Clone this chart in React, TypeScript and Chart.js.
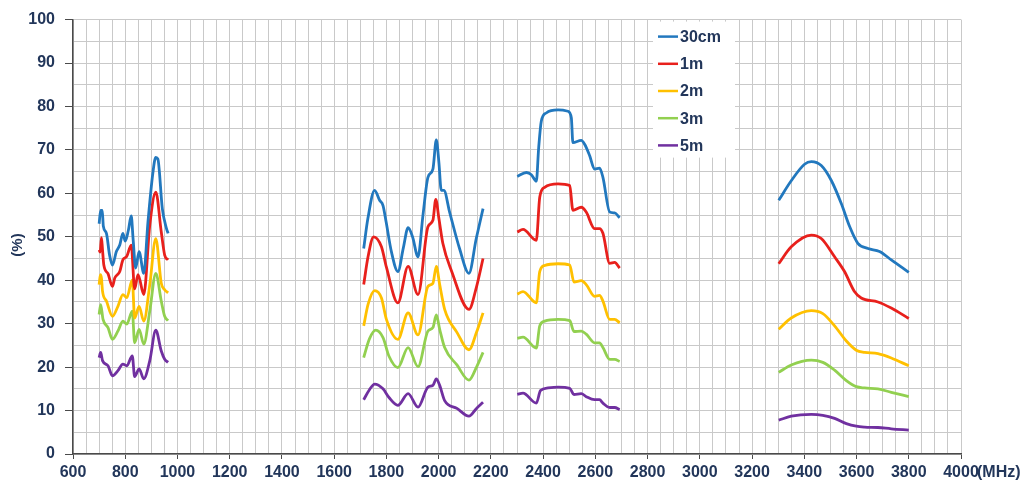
import React, { useEffect, useRef } from "react";
import { Chart, registerables } from "chart.js";

Chart.register(...registerables);

// ---- data (null = gap between frequency bands) ----
const seriesLabels = ["30cm", "1m", "2m", "3m", "5m"];
const seriesColors = ["#2278BE", "#E8201C", "#FFC000", "#92D050", "#7030A0"];

const freq30cm = [700, 706, 712, 716, 728, 740, 751, 766, 779, 791, 800, 812, 823, 830, 840, 853, 871, 887, 906, 917, 925, 942, 958, 964,
  1300,
  1713, 1729, 1755, 1774, 1787, 1799, 1819, 1844, 1865, 1883, 1900, 1921, 1940, 1959, 1978, 1991, 2001, 2010, 2020, 2042, 2080, 2116, 2144, 2170,
  2240,
  2301, 2336, 2355, 2374, 2383, 2393, 2412, 2457, 2495, 2508, 2514, 2546, 2559, 2578, 2597, 2616, 2629, 2655, 2674, 2693,
  3000,
  3302, 3350, 3401, 3427, 3465, 3504, 3542, 3574, 3605, 3644, 3688, 3733, 3800];
const pct30cm = [53.0, 56.1, 56.1, 52.5, 50.8, 45.8, 43.5, 46.6, 48.1, 50.8, 49.0, 51.5, 54.8, 49.6, 42.8, 46.6, 41.6, 53.4, 64.8, 68.3, 67.9, 56.5, 51.9, 50.8,
  null,
  47.3, 54.2, 60.7, 58.4, 57.2, 53.4, 46.6, 42.0, 47.5, 52.1, 50.0, 45.4, 55.0, 63.7, 65.6, 72.3, 67.1, 60.7, 60.7, 55.7, 47.3, 41.6, 49.6, 56.5,
  null,
  63.9, 64.8, 64.3, 62.8, 70.5, 76.6, 78.5, 79.2, 78.9, 77.4, 71.7, 72.2, 71.3, 68.7, 65.6, 65.8, 63.7, 55.7, 55.5, 54.4,
  null,
  58.4, 62.9, 66.7, 67.3, 66.4, 62.9, 57.6, 52.3, 48.5, 47.3, 46.6, 44.7, 41.8];

const freq1m = [700, 704, 709, 713, 718, 734, 751, 760, 779, 791, 806, 823, 836, 849, 871, 894, 917, 938, 951, 964,
  1300,
  1713, 1730, 1751, 1781, 1800, 1844, 1883, 1921, 1959, 1978, 1989, 2001, 2016, 2050, 2116, 2145, 2170,
  2240,
  2301, 2323, 2374, 2387, 2406, 2457, 2502, 2514, 2546, 2565, 2597, 2616, 2629, 2655, 2674, 2693,
  3000,
  3302, 3350, 3427, 3465, 3516, 3554, 3592, 3618, 3682, 3733, 3800];
const pct1m = [47.0, 46.5, 49.8, 47.0, 43.5, 41.5, 38.6, 40.5, 42.0, 44.7, 45.5, 48.1, 38.0, 41.3, 36.7, 52.7, 60.3, 51.1, 45.8, 44.7,
  null,
  39.0, 45.5, 50.0, 47.7, 43.0, 34.8, 43.2, 36.7, 52.3, 53.8, 58.6, 54.2, 48.5, 42.0, 33.3, 38.5, 45.0,
  null,
  51.1, 51.7, 49.2, 59.1, 61.4, 62.2, 61.8, 56.1, 56.8, 55.7, 51.9, 51.9, 50.8, 43.9, 44.1, 42.8,
  null,
  43.8, 47.7, 50.4, 49.6, 45.4, 42.0, 37.4, 35.9, 35.0, 33.6, 31.2];

const freq2m = [700, 705, 709, 713, 728, 751, 772, 791, 806, 827, 836, 853, 871, 894, 917, 938, 951, 964,
  1300,
  1713, 1730, 1755, 1781, 1800, 1844, 1883, 1921, 1959, 1978, 1991, 2004, 2023, 2070, 2116, 2145, 2170,
  2240,
  2301, 2323, 2374, 2387, 2406, 2457, 2502, 2518, 2546, 2565, 2597, 2616, 2629, 2655, 2674, 2693,
  3000,
  3302, 3350, 3427, 3471, 3516, 3561, 3599, 3631, 3682, 3733, 3800];
const pct2m = [39.0, 41.3, 40.5, 37.5, 35.2, 31.7, 34.0, 36.7, 36.0, 40.1, 31.3, 34.0, 30.6, 39.0, 49.6, 39.3, 37.8, 37.1,
  null,
  29.5, 34.5, 37.6, 35.9, 31.0, 26.4, 32.5, 27.4, 38.6, 39.3, 43.2, 39.0, 33.3, 28.0, 24.0, 28.0, 32.5,
  null,
  36.8, 37.4, 34.8, 42.0, 43.4, 43.8, 43.5, 39.6, 39.9, 39.0, 36.3, 36.5, 35.2, 31.0, 31.0, 30.2,
  null,
  28.7, 31.3, 33.0, 32.3, 29.5, 26.0, 23.9, 23.4, 23.1, 22.1, 20.3];

const freq3m = [700, 706, 715, 734, 751, 772, 791, 806, 827, 836, 853, 871, 894, 917, 938, 951, 964,
  1300,
  1713, 1735, 1759, 1787, 1810, 1844, 1883, 1921, 1959, 1978, 1991, 2004, 2023, 2070, 2116, 2145, 2170,
  2240,
  2301, 2323, 2374, 2387, 2406, 2457, 2502, 2518, 2546, 2565, 2597, 2616, 2629, 2655, 2674, 2693,
  3000,
  3302, 3350, 3427, 3471, 3516, 3561, 3599, 3631, 3682, 3733, 3800];
const pct3m = [32.1, 34.4, 31.0, 29.1, 26.4, 28.3, 30.6, 29.9, 32.9, 25.6, 28.7, 25.3, 32.9, 41.6, 35.2, 31.7, 30.7,
  null,
  22.2, 26.5, 28.5, 26.8, 22.5, 19.9, 24.5, 20.1, 28.3, 29.1, 32.0, 28.7, 24.5, 20.5, 17.0, 20.0, 23.4,
  null,
  26.6, 26.9, 24.4, 29.5, 30.6, 31.0, 30.7, 28.2, 28.3, 27.6, 25.6, 25.6, 24.5, 21.8, 21.8, 21.3,
  null,
  18.8, 20.5, 21.6, 21.1, 19.3, 16.9, 15.5, 15.2, 15.0, 14.2, 13.2];

const freq5m = [700, 706, 713, 734, 751, 772, 791, 806, 827, 836, 853, 871, 894, 917, 938, 951, 964,
  1300,
  1713, 1735, 1755, 1787, 1810, 1844, 1883, 1921, 1959, 1978, 1991, 2004, 2023, 2070, 2116, 2145, 2170,
  2240,
  2301, 2323, 2374, 2390, 2419, 2457, 2502, 2518, 2546, 2565, 2597, 2616, 2629, 2655, 2674, 2693,
  3000,
  3302, 3350, 3427, 3471, 3516, 3561, 3599, 3631, 3682, 3733, 3800];
const pct5m = [22.2, 23.4, 21.5, 20.3, 18.0, 19.2, 20.7, 20.3, 22.6, 17.8, 19.6, 17.3, 21.5, 28.5, 23.7, 21.8, 21.1,
  null,
  12.5, 14.8, 16.1, 15.0, 13.0, 11.2, 13.9, 10.8, 15.4, 15.8, 17.3, 15.8, 12.3, 10.5, 8.7, 10.5, 11.9,
  null,
  13.7, 14.0, 11.7, 14.6, 15.2, 15.4, 15.1, 13.7, 13.9, 13.2, 12.5, 12.5, 11.7, 10.7, 10.7, 10.2,
  null,
  7.8, 8.7, 9.1, 8.9, 8.2, 7.0, 6.4, 6.2, 6.1, 5.8, 5.5];

const seriesFreqs = [freq30cm, freq1m, freq2m, freq3m, freq5m];
const seriesPcts = [pct30cm, pct1m, pct2m, pct3m, pct5m];

const xMin = 600;
const xMax = 4000;
const xLabelStep = 200;
const yMin = 0;
const yMax = 100;
const yLabelStep = 10;
const xUnit = "(MHz)";
const yUnit = "(%)";

const FONT = "Arial, 'Liberation Sans', sans-serif";
const TEXT = "#22365A";
const GRID = "#C9C9C9";
const AXIS = "#4A4A4A";

const overlayPlugin = {
  id: "overlay",
  afterDatasetsDraw(chart: any) {
    const ctx = chart.ctx as CanvasRenderingContext2D;
    const ca = chart.chartArea;
    ctx.save();
    // legend box
    const bx = ca.left + 580;
    const by = ca.top + 2;
    ctx.fillStyle = "#FFFFFF";
    ctx.fillRect(bx, by, 82, 136);
    ctx.font = `bold 16px ${FONT}`;
    ctx.textBaseline = "middle";
    ctx.textAlign = "left";
    seriesLabels.forEach((lab, i) => {
      const y = by + 15 + i * 27.2;
      ctx.strokeStyle = seriesColors[i];
      ctx.lineWidth = 2.5;
      ctx.beginPath();
      ctx.moveTo(bx + 5, y);
      ctx.lineTo(bx + 25, y);
      ctx.stroke();
      ctx.fillStyle = TEXT;
      ctx.fillText(lab, bx + 27, y + 1);
    });
    // unit labels
    ctx.fillStyle = TEXT;
    ctx.font = `bold 16px ${FONT}`;
    ctx.textAlign = "left";
    ctx.fillText(xUnit, ca.right + 16, ca.bottom + 19);
    ctx.translate(18, 245);
    ctx.rotate(-Math.PI / 2);
    ctx.textAlign = "center";
    ctx.font = `bold 15px ${FONT}`;
    ctx.fillText(yUnit, 0, 0);
    ctx.restore();
  },
};

export default function App() {
  const ref = useRef<HTMLCanvasElement>(null);
  useEffect(() => {
    if (!ref.current) return;
    const datasets = seriesLabels.map((label, i) => ({
      label,
      data: seriesFreqs[i].map((f, k) => ({ x: f, y: seriesPcts[i][k] })),
      borderColor: seriesColors[i],
      backgroundColor: seriesColors[i],
      borderWidth: 2.8,
      pointRadius: 0,
      tension: 0.4,
      cubicInterpolationMode: "monotone" as const,
      spanGaps: false,
    }));
    const chart = new Chart(ref.current, {
      type: "line",
      data: { datasets },
      options: {
        animation: false,
        responsive: false,
        maintainAspectRatio: false,
        layout: { padding: { top: 14, right: 70, left: 2, bottom: 0 } },
        plugins: { legend: { display: false }, tooltip: { enabled: false } },
        scales: {
          x: {
            type: "linear",
            min: xMin,
            max: xMax,
            afterFit: (s: any) => { s.height = 32; },
            afterBuildTicks: (s: any) => {
              const t = [];
              for (let v = xMin; v <= xMax; v += 50) t.push({ value: v });
              s.ticks = t;
            },
            ticks: {
              autoSkip: false,
              maxRotation: 0,
              padding: 4,
              color: TEXT,
              font: { family: FONT, size: 16, weight: "bold" },
              callback: (v: any) => (Number(v) % xLabelStep === 0 ? String(v) : ""),
            },
            grid: {
              color: GRID,
              lineWidth: 1,
              tickLength: 5,
              tickColor: (c: any) => (c.tick && c.tick.value % xLabelStep === 0 ? AXIS : "rgba(0,0,0,0)"),
            },
            border: { color: AXIS, width: 1.5 },
          },
          y: {
            min: yMin,
            max: yMax,
            afterFit: (s: any) => { s.width = 71; },
            afterBuildTicks: (s: any) => {
              const t = [];
              for (let v = yMin; v <= yMax; v += 5) t.push({ value: v });
              s.ticks = t;
            },
            ticks: {
              autoSkip: false,
              padding: 10,
              color: TEXT,
              font: { family: FONT, size: 16, weight: "bold" },
              callback: (v: any) => (Number(v) % yLabelStep === 0 ? String(v) : ""),
            },
            grid: {
              color: GRID,
              lineWidth: 1,
              tickLength: 8,
              tickColor: (c: any) => (c.tick && c.tick.value % yLabelStep === 0 ? AXIS : "rgba(0,0,0,0)"),
            },
            border: { color: AXIS, width: 1.5 },
          },
        },
      },
      plugins: [overlayPlugin],
    });
    return () => chart.destroy();
  }, []);
  return (
    <div style={{ position: "absolute", left: 0, top: 0, width: 1031, height: 486, background: "#FFFFFF" }}>
      <canvas ref={ref} width={1031} height={486} style={{ width: 1031, height: 486, display: "block" }} />
    </div>
  );
}
